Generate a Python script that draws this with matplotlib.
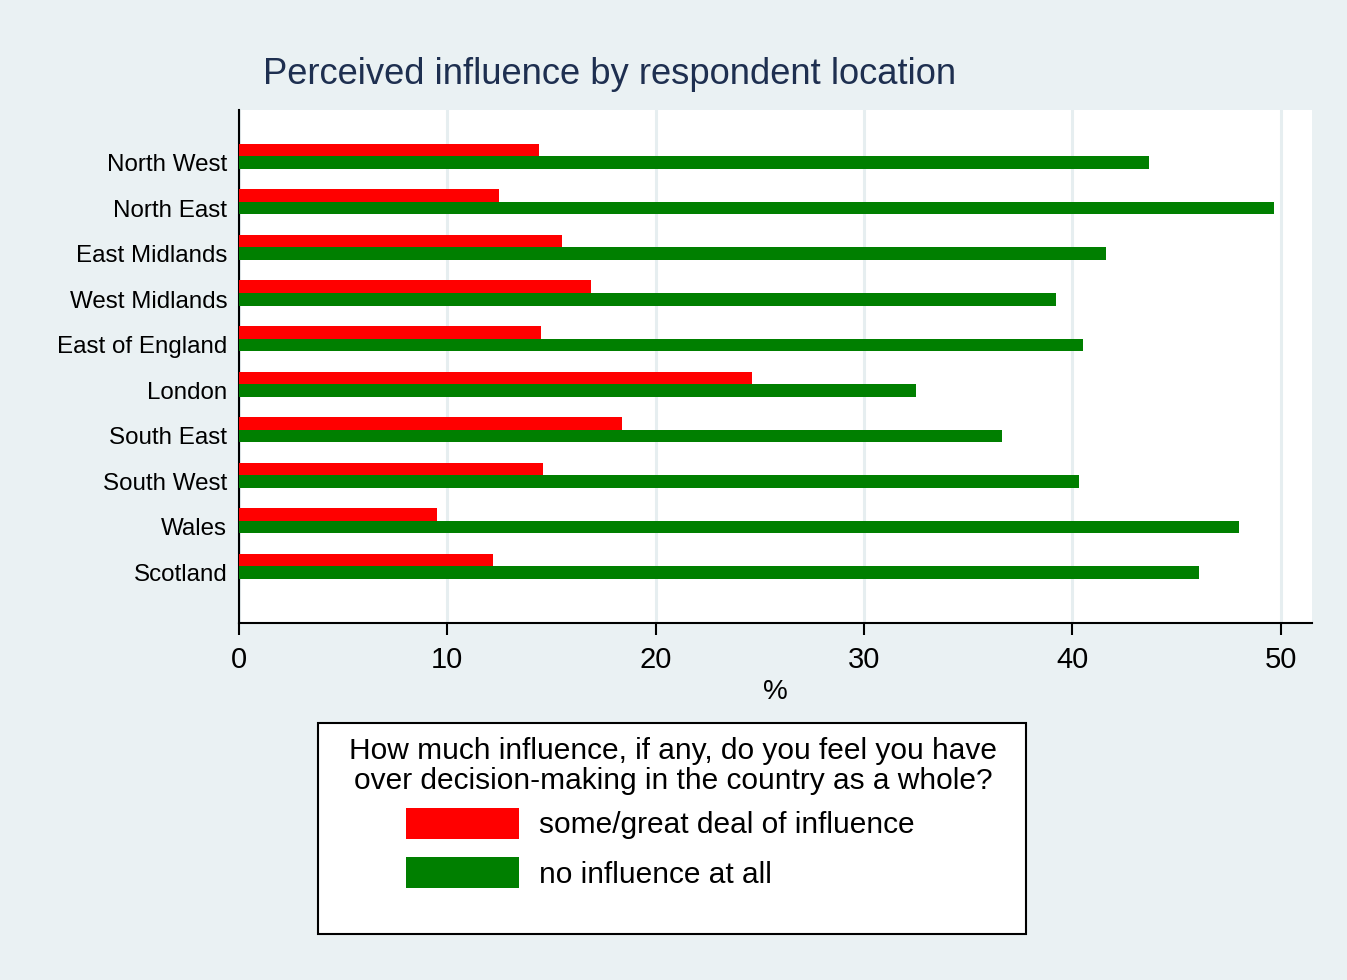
import numpy as np
import matplotlib.pyplot as plt
from matplotlib.patches import Rectangle, Patch

plt.rcParams['font.family'] = ['Liberation Sans', 'DejaVu Sans']

regions = ['North West', 'North East', 'East Midlands', 'West Midlands',
           'East of England', 'London', 'South East', 'South West',
           'Wales', 'Scotland']
some_influence = [14.4, 12.5, 15.5, 16.9, 14.5, 24.6, 18.4, 14.6, 9.5, 12.2]
no_influence = [43.7, 49.7, 41.6, 39.2, 40.5, 32.5, 36.6, 40.3, 48.0, 46.1]

bg = '#EAF1F3'
red = '#FF0000'
green = '#007F00'

fig = plt.figure(figsize=(13.47, 9.8), dpi=100, facecolor=bg)
ax = fig.add_axes([239 / 1347, 1 - 623 / 980, 1073 / 1347, 513 / 980])

y = np.arange(len(regions))
h = 0.275
ax.barh(y - h / 2, some_influence, height=h, color=red, zorder=3)
ax.barh(y + h / 2, no_influence, height=h, color=green, zorder=3)

ax.set_ylim(10.25, -1.02)
ax.set_xlim(0, 51.5)
ax.set_yticks(y + 0.14)
ax.set_yticklabels(regions, fontsize=17.4)
ax.tick_params(axis='y', length=0, pad=8.5)
ax.set_xticks([0, 10, 20, 30, 40, 50])
ax.tick_params(axis='x', length=8.5, width=1.5, pad=8, labelsize=21)
ax.xaxis.grid(True, color='#E6EEF0', linewidth=2.2, zorder=0)
ax.set_axisbelow(True)
ax.set_xlabel('%', fontsize=20, labelpad=4)

for s in ['top', 'right']:
    ax.spines[s].set_visible(False)
for s in ['left', 'bottom']:
    ax.spines[s].set_linewidth(1.5)
    ax.spines[s].set_color('black')

fig.text(610 / 1347, 1 - 75 / 980, 'Perceived influence by respondent location',
         fontsize=26.2, color='#1E2F50', ha='center', va='center')

# legend box
fig.patches.append(Rectangle((318 / 1347, 1 - 934 / 980), 708 / 1347, 211 / 980,
                             transform=fig.transFigure, facecolor='white',
                             edgecolor='black', linewidth=1.5, zorder=1))
fig.text(673 / 1347, 1 - 766 / 980,
         'How much influence, if any, do you feel you have\nover decision-making in the country as a whole?',
         fontsize=21.5, ha='center', va='center', multialignment='center',
         linespacing=1.05, zorder=2)
handles = [Patch(facecolor=red), Patch(facecolor=green)]
leg = fig.legend(handles, ['some/great deal of influence', 'no influence at all'],
                 loc='upper left', bbox_to_anchor=(406 / 1347, 1 - 808 / 980),
                 fontsize=21.5, frameon=False, borderpad=0, borderaxespad=0,
                 handlelength=3.8, handleheight=1.2, labelspacing=0.6,
                 handletextpad=0.66)
leg.set_zorder(2)

fig.savefig('out.png', dpi=100, facecolor=bg)
